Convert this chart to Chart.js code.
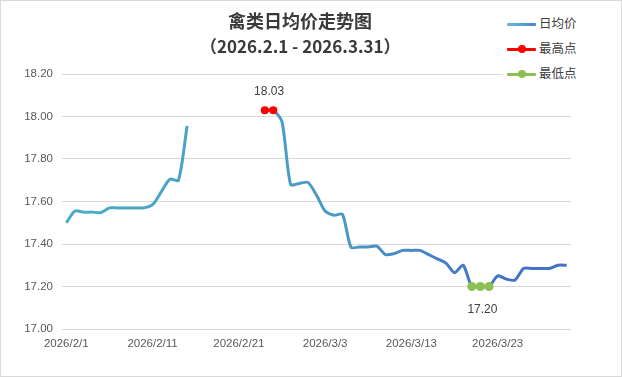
<!DOCTYPE html>
<html>
<head>
<meta charset="utf-8">
<script src="https://cdn.jsdelivr.net/npm/chart.js@4/dist/chart.umd.min.js"></script>
<style>
  body { margin: 0; background: #fff; }
  #wrap { position: relative; width: 622px; height: 377px; }
  #wrap canvas { position: absolute; left: 0; top: 0; }
  #frame { position: absolute; left: 0; top: 0; width: 622px; height: 377px; box-sizing: border-box; border: 1px solid #d9d9d9; pointer-events: none; }
  .title { position: absolute; left: 200px; width: 200px; text-align: center; font-family: "Noto Sans CJK SC", sans-serif; font-weight: bold; color: #3a3a3a; white-space: nowrap; }
  #legend { position: absolute; left: 503px; top: 10px; width: 100px; height: 74px; background: #fff; font-family: "Noto Sans CJK SC", sans-serif; font-size: 12.5px; color: #404040; }
  .item { position: absolute; left: 4px; height: 16px; width: 90px; }
  .item .ln { position: absolute; left: 0; top: 7px; width: 29px; height: 3px; border-radius: 1px; }
  .item .dot { position: absolute; left: 11px; top: 4px; width: 8px; height: 8px; border-radius: 50%; }
  .item .tx { position: absolute; left: 32px; top: -1px; line-height: 16px; }
</style>
</head>
<body>
<div id="wrap">
  <canvas id="chart" width="622" height="377"></canvas>
  <div class="title" style="top:8px;font-size:18px;line-height:24px;">禽类日均价走势图</div>
  <div class="title" style="top:34px;font-size:17px;line-height:24px;">（2026.2.1 - 2026.3.31）</div>
  <div id="legend">
    <div class="item" style="top:6px"><div class="ln" style="background:linear-gradient(90deg,#6bb8dc,#4a86c8)"></div><span class="tx">日均价</span></div>
    <div class="item" style="top:31px"><div class="ln" style="background:#ff0000"></div><div class="dot" style="background:#ff0000"></div><span class="tx">最高点</span></div>
    <div class="item" style="top:56px"><div class="ln" style="background:#8cc152"></div><div class="dot" style="background:#8cc152"></div><span class="tx">最低点</span></div>
  </div>
  <div id="frame"></div>
</div>
<script>
/* 禽类日均价 2026.2.1 - 2026.3.31, every day one category */

const dates = [
  '2026/2/1','2026/2/2','2026/2/3','2026/2/4','2026/2/5','2026/2/6','2026/2/7','2026/2/8','2026/2/9','2026/2/10',
  '2026/2/11','2026/2/12','2026/2/13','2026/2/14','2026/2/15','2026/2/16','2026/2/17','2026/2/18','2026/2/19','2026/2/20',
  '2026/2/21','2026/2/22','2026/2/23','2026/2/24','2026/2/25','2026/2/26','2026/2/27','2026/2/28','2026/3/1','2026/3/2',
  '2026/3/3','2026/3/4','2026/3/5','2026/3/6','2026/3/7','2026/3/8','2026/3/9','2026/3/10','2026/3/11','2026/3/12',
  '2026/3/13','2026/3/14','2026/3/15','2026/3/16','2026/3/17','2026/3/18','2026/3/19','2026/3/20','2026/3/21','2026/3/22',
  '2026/3/23','2026/3/24','2026/3/25','2026/3/26','2026/3/27','2026/3/28','2026/3/29','2026/3/30','2026/3/31'
];

// null = 春节期间无报价
const dailyAvg = [
  17.50, 17.555, 17.55, 17.55, 17.548, 17.57, 17.57, 17.57, 17.57, 17.57,
  17.585, 17.645, 17.705, 17.70, 17.955, null, null, null, null, null,
  null, null, null, 18.03, 18.03, 17.975, 17.68, 17.685, 17.69, 17.63,
  17.555, 17.535, 17.54, 17.385, 17.386, 17.386, 17.39, 17.35, 17.355, 17.37,
  17.37, 17.37, 17.35, 17.33, 17.31, 17.265, 17.30, 17.20, 17.20, 17.20,
  17.25, 17.235, 17.23, 17.285, 17.285, 17.285, 17.285, 17.30, 17.30
];

const highDates  = ['2026/2/24', '2026/2/25'];
const highValues = [18.03, 18.03];
const lowDates   = ['2026/3/20', '2026/3/21', '2026/3/22'];
const lowValues  = [17.20, 17.20, 17.20];

const yTicks = { min: 17.0, max: 18.2, step: 0.2 };

function lineGradient(context) {
  const chart = context.chart;
  const area = chart.chartArea;
  if (!area) return '#4bacc6';
  const g = chart.ctx.createLinearGradient(area.left, 0, area.right, 0);
  g.addColorStop(0, '#4bacc6');
  g.addColorStop(0.55, '#4a98c6');
  g.addColorStop(0.85, '#4472c4');
  g.addColorStop(1, '#4472c4');
  return g;
}

/* labels above the high points / below the low points */
const pointLabels = {
  id: 'pointLabels',
  afterDatasetsDraw(chart) {
    const ctx = chart.ctx;
    ctx.save();
    ctx.font = '12px "Liberation Sans", Arial, sans-serif';
    ctx.fillStyle = '#404040';
    ctx.textAlign = 'center';
    ctx.textBaseline = 'middle';

    const hi = chart.getDatasetMeta(1).data;
    if (hi.length) {
      const x = (hi[0].x + hi[hi.length - 1].x) / 2;
      ctx.fillText(highValues[0].toFixed(2), x, hi[0].y - 18);
    }
    const lo = chart.getDatasetMeta(2).data;
    if (lo.length) {
      const mid = lo[Math.floor(lo.length / 2)];
      ctx.fillText(lowValues[0].toFixed(2), mid.x + 2, mid.y + 23);
    }
    ctx.restore();
  }
};

const tickFont = { family: '"Liberation Sans", Arial, sans-serif', size: 11.5 };

new Chart(document.getElementById('chart'), {
  type: 'line',
  data: {
    labels: dates,
    datasets: [
      {
        label: '日均价',
        data: dailyAvg,
        borderColor: lineGradient,
        borderWidth: 3,
        pointRadius: 0,
        tension: 0.25,
        spanGaps: false,
        order: 3,
      },
      {
        label: '最高点',
        data: highDates.map((d, i) => ({ x: d, y: highValues[i] })),
        borderColor: '#ff0000',
        backgroundColor: '#ff0000',
        borderWidth: 3,
        pointRadius: 4,
        pointBorderWidth: 0,
        order: 1,
      },
      {
        label: '最低点',
        data: lowDates.map((d, i) => ({ x: d, y: lowValues[i] })),
        borderColor: '#8cc152',
        backgroundColor: '#8cc152',
        borderWidth: 3,
        pointRadius: 4.5,
        pointBorderWidth: 0,
        order: 2,
      },
    ],
  },
  options: {
    responsive: false,
    animation: false,
    layout: { padding: { top: 74, right: 51, left: 0, bottom: 0 } },
    plugins: {
      legend: { display: false },
      title: { display: false },
      tooltip: { enabled: false },
    },
    scales: {
      x: {
        offset: true,
        grid: { display: false, drawTicks: false },
        border: { display: false },
        ticks: {
          autoSkip: false,
          maxRotation: 0,
          padding: 8,
          color: '#595959',
          font: tickFont,
          callback: (v, i) => (i % 10 === 0 ? dates[i] : ''),
        },
        afterFit: s => { s.height = 48; },
      },
      y: {
        min: yTicks.min,
        max: yTicks.max,
        grid: { color: '#d9d9d9', drawTicks: false },
        border: { display: false },
        ticks: {
          stepSize: yTicks.step,
          padding: 9,
          color: '#595959',
          font: tickFont,
          callback: v => v.toFixed(2),
        },
        afterFit: s => { s.width = 62; },
      },
    },
  },
  plugins: [pointLabels],
});
</script>
</body>
</html>
